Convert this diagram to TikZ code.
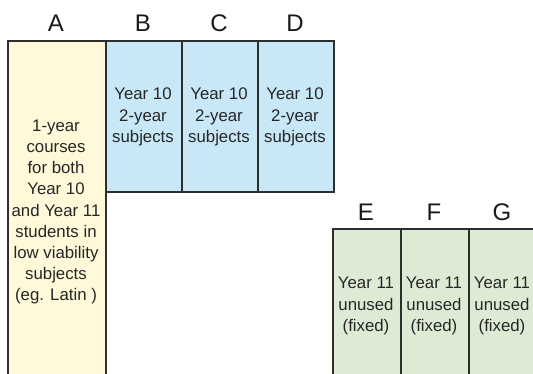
\documentclass[tikz,border=0pt]{standalone}
\usepackage{fontspec}
\setmainfont{Liberation Sans}
\definecolor{edge}{HTML}{2E2E2E}
\definecolor{yel}{HTML}{FFF9DA}
\definecolor{blu}{HTML}{C8E8F8}
\definecolor{grn}{HTML}{DEEBD4}
\tikzset{
  colbox/.style={draw=edge, line width=2.2pt, rectangle, inner sep=0pt, anchor=north west},
  coltext/.style={align=center, inner sep=0pt, text=black!85, font=\fontsize{16.8}{21.2}\selectfont},
  collabel/.style={anchor=base, inner sep=0pt, text=black!90, font=\fontsize{24}{24}\selectfont}
}
\begin{document}
\begin{tikzpicture}[x=1pt, y=-1pt]
\useasboundingbox (0,0) rectangle (533,374);
\clip (0,0) rectangle (533,374);
% boxes
\node[colbox, fill=yel, minimum width=98pt, minimum height=345pt] (boxA) at (7,40) {};
\node[colbox, fill=blu, minimum width=76pt, minimum height=151pt] (boxB) at (105,40) {};
\node[colbox, fill=blu, minimum width=76pt, minimum height=151pt] (boxC) at (181,40) {};
\node[colbox, fill=blu, minimum width=76pt, minimum height=151pt] (boxD) at (257,40) {};
\node[colbox, fill=grn, minimum width=68pt, minimum height=160pt] (boxE) at (332,228) {};
\node[colbox, fill=grn, minimum width=68pt, minimum height=160pt] (boxF) at (400,228) {};
\node[colbox, fill=grn, minimum width=68pt, minimum height=160pt] (boxG) at (468,228) {};
% labels
\node[collabel] (labA) at (56,32) {A};
\node[collabel] (labB) at (143,32) {B};
\node[collabel] (labC) at (219,32) {C};
\node[collabel] (labD) at (295,32) {D};
\node[collabel] (labE) at (366,221) {E};
\node[collabel] (labF) at (434,221) {F};
\node[collabel] (labG) at (502,221) {G};
% texts
\node[coltext] (txtA) at (56,212) {1-year\\courses\\for both\\Year 10\\and Year 11\\students in\\low viability\\subjects\\(eg. Latin )};
\node[coltext] (txtB) at (143,117) {Year 10\\2-year\\subjects};
\node[coltext] (txtC) at (219,117) {Year 10\\2-year\\subjects};
\node[coltext] (txtD) at (295,117) {Year 10\\2-year\\subjects};
\node[coltext] (txtE) at (366,306) {Year 11\\unused\\(fixed)};
\node[coltext] (txtF) at (434,306) {Year 11\\unused\\(fixed)};
\node[coltext] (txtG) at (502,306) {Year 11\\unused\\(fixed)};
\end{tikzpicture}
\end{document}
